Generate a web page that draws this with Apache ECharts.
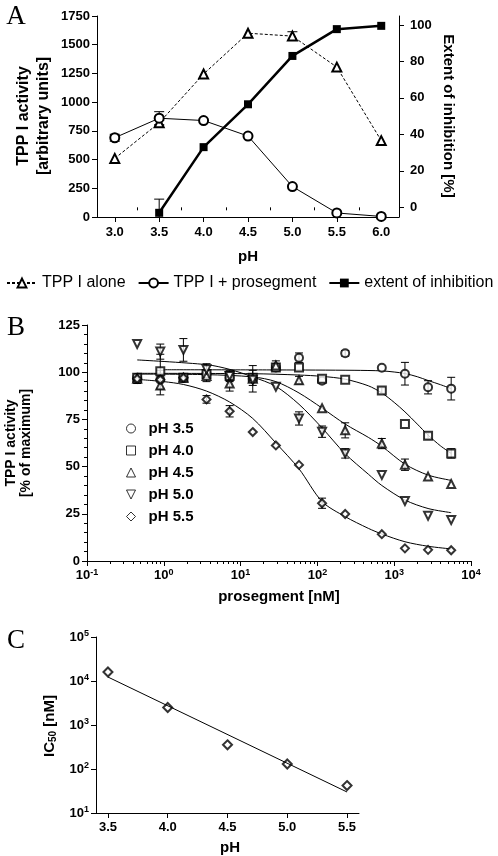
<!DOCTYPE html>
<html><head><meta charset="utf-8">
<script src="https://cdn.jsdelivr.net/npm/echarts@6/dist/echarts.min.js"></script>
<style>html,body{margin:0;padding:0;background:#fff;}#c{width:498px;height:856px;}</style>
</head><body><div id="c"></div>
<script>
// ---------- Panel A ----------
const phA = [3.0, 3.5, 4.0, 4.5, 5.0, 5.5, 6.0];
const tppAlone = [510, 820, 1245, 1600, 1575, 1305, 665];
const tppAloneErr = [0, 20, 0, 0, 38, 0, 0];
const tppPro = [690, 860, 840, 705, 265, 35, 5];
const tppProErr = [30, 57, 0, 0, 0, 0, 0];
const phInhib = [3.5, 4.0, 4.5, 5.0, 5.5, 6.0];
const inhibition = [-3, 33, 56.5, 83, 97.7, 99.5];
const inhibitionErr = [7.5, 0, 0, 0, 0, 0];
const phTicksA = [3.0, 3.5, 4.0, 4.5, 5.0, 5.5, 6.0];
const phMinorTicksA = [3.25, 3.75, 4.25, 4.75, 5.25, 5.75];
const inhibTicksA = [0, 20, 40, 60, 80, 100];

// ---------- Panel B ----------
const conc = [0.45, 0.9, 1.8, 3.6, 7.2, 14.4, 28.8, 57.6, 115, 230, 690, 1380, 2760, 5520];
const act35 = [97, 96, 97, 99, 97, 96.5, 102.5, 107.7, 95.5, 110, 102.4, 99.2, 92, 91.3];
const err35 = [0, 5, 0, 0, 0, 0, 0, 2.5, 0, 1.5, 0, 6, 3.5, 6];
const act40 = [97, 100.5, 97, 99, 98, 97, 102.5, 102.5, 96.5, 96, 90.3, 72.5, 66.3, 57];
const err40 = [0, 9, 0, 2, 3, 4, 2, 0, 0, 0, 1.5, 0, 1.5, 2.5];
const act45 = [96.5, 93, 97, 98, 94, 96.5, 103.5, 95.8, 80.9, 69.2, 62.2, 51, 44.7, 40.8];
const err45 = [2.5, 5, 0, 3, 4, 7, 2.5, 2, 0, 4, 2.7, 3, 0, 0];
const act50 = [114.9, 110.9, 111.8, 101.5, 98, 96, 92.3, 75.5, 68.5, 57, 45.6, 31.8, 24, 21.7];
const err50 = [0, 4, 6, 3, 0, 0, 0, 3.5, 3, 2.5, 0, 0, 0, 0];
const act55 = [96.5, 96, 97, 85.6, 79.3, 68.3, 61.2, 50.9, 30.6, 24.9, 14.2, 6.7, 5.9, 5.7];
const err55 = [0, 0, 0, 2, 3, 0, 0, 0, 2.7, 0, 0, 0, 0, 0];

// fitted curves
const fit35X = [1, 30, 300, 690, 1000, 1380, 2000, 2760, 4000, 5520];
const fit35Y = [101.3, 101.2, 101.0, 100.7, 100.1, 99.3, 97.6, 95.6, 93.4, 91.3];
const fit40X = [0.45, 14.4, 57.6, 115, 230, 460, 690, 1000, 1380, 2000, 2760, 4000, 5520];
const fit40Y = [99.4, 99.2, 98.5, 97.8, 96.3, 92.8, 89, 84, 79, 72.5, 66.7, 61, 57];
const fit45X = [0.45, 3.6, 14.4, 28.8, 57.6, 115, 230, 460, 690, 1380, 2760, 5520];
const fit45Y = [99, 98.7, 97.5, 95, 89, 81, 72.5, 65.5, 60.8, 51.3, 45.5, 42.7];
const fit50X = [0.45, 3.6, 7.2, 14.4, 28.8, 57.6, 115, 230, 460, 690, 1380, 2760, 5520];
const fit50Y = [106.5, 104, 101.5, 97.5, 92.5, 83, 70.5, 56.8, 46, 40, 32.3, 27.8, 25.6];
const fit55X = [0.45, 1, 1.8, 3.6, 7.2, 14.4, 28.8, 57.6, 115, 230, 460, 690, 1380, 2760, 5520];
const fit55Y = [96.2, 95, 93.5, 90, 84.2, 75.5, 62.5, 48.8, 31.5, 23.5, 17.3, 14.3, 10.2, 7.8, 6.4];

const concMinorTicksB = [0.2,0.3,0.4,0.5,0.6,0.7,0.8,0.9, 2,3,4,5,6,7,8,9, 20,30,40,50,60,70,80,90,
  200,300,400,500,600,700,800,900, 2000,3000,4000,5000,6000,7000,8000,9000];

// ---------- Panel C ----------
const phC = [3.5, 4.0, 4.5, 5.0, 5.5];
const ic50 = [16000, 2500, 355, 130, 42];
const fitPhC = [3.5, 5.5];
const fitIc50C = [12300, 30];
const phTicksC = [3.5, 4.0, 4.5, 5.0, 5.5];

// ---------- helpers ----------
const FONT = '"Liberation Sans", Arial, Helvetica, sans-serif';
const pairs = (xs, ys) => xs.map((x, i) => [x, ys[i]]);
function errSeries(xs, ys, es, xi, yi, cap) {
  const data = [];
  xs.forEach((x, i) => { if (es[i] > 0) data.push([x, ys[i] - es[i], ys[i] + es[i]]); });
  return {
    type: 'custom', xAxisIndex: xi, yAxisIndex: yi, clip: true, silent: true, z: 1,
    encode: { x: 0, y: [1, 2] }, data,
    renderItem: (p, api) => {
      const a = api.coord([api.value(0), api.value(1)]);
      const b = api.coord([api.value(0), api.value(2)]);
      const st = { stroke: '#000', lineWidth: 1 };
      return { type: 'group', children: [
        { type: 'line', shape: { x1: a[0], y1: a[1], x2: b[0], y2: b[1] }, style: st },
        { type: 'line', shape: { x1: a[0] - cap, y1: a[1], x2: a[0] + cap, y2: a[1] }, style: st },
        { type: 'line', shape: { x1: b[0] - cap, y1: b[1], x2: b[0] + cap, y2: b[1] }, style: st }
      ]};
    }
  };
}
const labelStyle = { color: '#000', fontSize: 13, fontWeight: 'bold', fontFamily: FONT };
const axLine = { show: true, lineStyle: { color: '#000', width: 1 } };
const supRich = {
  b: { fontSize: 13, fontWeight: 'bold', fontFamily: FONT, color: '#000' },
  s: { fontSize: 9, fontWeight: 'bold', fontFamily: FONT, color: '#000', verticalAlign: 'top', padding: [0, 0, 6, 0] }
};
const powFmt = v => '{b|10}{s|' + Math.round(Math.log10(v)) + '}';
const emptyIcon = { color: '#fff', borderColor: '#000', borderWidth: 1 };

const chart = echarts.init(document.getElementById('c'), null, { renderer: 'canvas' });
const fitLine = (name, xs, ys) => ({
  name, type: 'line', xAxisIndex: 2, yAxisIndex: 2, data: pairs(xs, ys), symbol: 'none',
  smooth: 0.3, lineStyle: { color: '#000', width: 1 }, silent: true, z: 2
});
const scatB = (name, ys, sym, rot) => ({
  name, type: 'scatter', xAxisIndex: 2, yAxisIndex: 2, data: pairs(conc, ys), symbol: sym,
  symbolSize: 8, symbolRotate: rot || 0, itemStyle: { color: '#000', borderColor: '#000', borderWidth: 1 }, z: 3
});

const option = {
  animation: false,
  backgroundColor: '#fff',
  grid: [
    { left: 97, top: 16, width: 302, height: 201 },
    { left: 87, top: 325, width: 384, height: 236 },
    { left: 96, top: 637, width: 263, height: 176 }
  ],
  legend: [
    { data: ['TPP I alone', 'TPP I + prosegment', 'extent of inhibition'], left: 6, top: 275, padding: 0,
      itemWidth: 30, itemHeight: 11, itemGap: 12, selectedMode: false,
      textStyle: { fontSize: 16, fontFamily: FONT, color: '#000' } },
    { data: [
        { name: 'pH 3.5', icon: 'circle', itemStyle: emptyIcon },
        { name: 'pH 4.0', icon: 'rect', itemStyle: emptyIcon },
        { name: 'pH 4.5', icon: 'triangle', itemStyle: emptyIcon },
        { name: 'pH 5.0', icon: 'path://M0,0L10,0L5,10Z', itemStyle: emptyIcon },
        { name: 'pH 5.5', icon: 'diamond', itemStyle: emptyIcon }
      ], orient: 'vertical', left: 126, top: 421, padding: 0,
      itemWidth: 9, itemHeight: 9, itemGap: 7, selectedMode: false,
      textStyle: { fontSize: 15, fontWeight: 'bold', fontFamily: FONT, color: '#000', lineHeight: 14, padding: [0, 0, 0, 8] } }
  ],
  xAxis: [
    { type: 'value', gridIndex: 0, min: 2.8, max: 6.2, position: 'bottom', axisLine: axLine, splitLine: { show: false },
      axisTick: { show: true, length: 5, customValues: phTicksA, lineStyle: { color: '#000' } },
      axisLabel: Object.assign({ margin: 9, customValues: phTicksA, formatter: v => v.toFixed(1) }, labelStyle) },
    { type: 'value', gridIndex: 0, min: 2.8, max: 6.2, position: 'bottom', axisLine: { show: false }, splitLine: { show: false },
      axisTick: { show: true, length: 3, customValues: phMinorTicksA, lineStyle: { color: '#000' } }, axisLabel: { show: false } },
    { type: 'log', logBase: 10, gridIndex: 1, min: 0.1, max: 10000, position: 'bottom', axisLine: axLine, splitLine: { show: false },
      axisTick: { show: true, length: 5, lineStyle: { color: '#000' } },
      axisLabel: { margin: 7, formatter: powFmt, rich: supRich } },
    { type: 'log', logBase: 10, gridIndex: 1, min: 0.1, max: 10000, position: 'bottom', axisLine: { show: false }, splitLine: { show: false },
      axisTick: { show: true, length: 3, customValues: concMinorTicksB, lineStyle: { color: '#000' } }, axisLabel: { show: false } },
    { type: 'value', gridIndex: 2, min: 3.4, max: 5.6, position: 'bottom', axisLine: axLine, splitLine: { show: false },
      axisTick: { show: true, length: 5, customValues: phTicksC, lineStyle: { color: '#000' } },
      axisLabel: Object.assign({ margin: 8, customValues: phTicksC, formatter: v => v.toFixed(1) }, labelStyle) }
  ],
  yAxis: [
    { type: 'value', gridIndex: 0, min: 0, max: 1750, interval: 250, position: 'left', axisLine: axLine, splitLine: { show: false },
      axisTick: { show: true, length: 5, lineStyle: { color: '#000' } },
      axisLabel: Object.assign({ margin: 7, formatter: v => String(v) }, labelStyle) },
    { type: 'value', gridIndex: 0, min: -5.3, max: 104.9, position: 'right', axisLine: axLine, splitLine: { show: false },
      axisTick: { show: true, length: 5, customValues: inhibTicksA, lineStyle: { color: '#000' } },
      axisLabel: Object.assign({ margin: 11, customValues: inhibTicksA, formatter: v => String(v) }, labelStyle) },
    { type: 'value', gridIndex: 1, min: 0, max: 125, interval: 25, position: 'left', axisLine: axLine, splitLine: { show: false },
      axisTick: { show: true, length: 5, lineStyle: { color: '#000' } },
      minorTick: { show: true, splitNumber: 5, length: 3, lineStyle: { color: '#000' } },
      axisLabel: Object.assign({ margin: 7, formatter: v => String(v) }, labelStyle) },
    { type: 'log', logBase: 10, gridIndex: 2, min: 10, max: 100000, position: 'left', axisLine: axLine, splitLine: { show: false },
      axisTick: { show: true, length: 5, lineStyle: { color: '#000' } },
      axisLabel: { margin: 7, formatter: powFmt, rich: supRich } }
  ],
  series: [
    // Panel A
    { name: 'TPP I alone', type: 'line', xAxisIndex: 0, yAxisIndex: 0, data: pairs(phA, tppAlone),
      symbol: 'emptyTriangle', symbolSize: 9, lineStyle: { color: '#000', width: 1, type: [3, 2] },
      itemStyle: { color: '#000', borderColor: '#000', borderWidth: 1 }, z: 3 },
    { name: 'TPP I + prosegment', type: 'line', xAxisIndex: 0, yAxisIndex: 0, data: pairs(phA, tppPro),
      symbol: 'emptyCircle', symbolSize: 9, lineStyle: { color: '#000', width: 1 },
      itemStyle: { color: '#000', borderColor: '#000', borderWidth: 1 }, z: 3 },
    { name: 'extent of inhibition', type: 'line', xAxisIndex: 0, yAxisIndex: 1, data: pairs(phInhib, inhibition),
      symbol: 'rect', symbolSize: 8, lineStyle: { color: '#000', width: 2.5 },
      itemStyle: { color: '#000' }, z: 4 },
    errSeries(phA, tppAlone, tppAloneErr, 0, 0, 5),
    errSeries(phA, tppPro, tppProErr, 0, 0, 5),
    errSeries(phInhib, inhibition, inhibitionErr, 0, 1, 5),
    // Panel B
    fitLine('fit 3.5', fit35X, fit35Y),
    fitLine('fit 4.0', fit40X, fit40Y),
    fitLine('fit 4.5', fit45X, fit45Y),
    fitLine('fit 5.0', fit50X, fit50Y),
    fitLine('fit 5.5', fit55X, fit55Y),
    errSeries(conc, act35, err35, 2, 2, 4),
    errSeries(conc, act40, err40, 2, 2, 4),
    errSeries(conc, act45, err45, 2, 2, 4),
    errSeries(conc, act50, err50, 2, 2, 4),
    errSeries(conc, act55, err55, 2, 2, 4),
    scatB('pH 3.5', act35, 'emptyCircle'),
    scatB('pH 4.0', act40, 'emptyRect'),
    scatB('pH 4.5', act45, 'emptyTriangle'),
    scatB('pH 5.0', act50, 'emptyTriangle', 180),
    scatB('pH 5.5', act55, 'emptyDiamond'),
    // Panel C
    { name: 'IC50 fit', type: 'line', xAxisIndex: 4, yAxisIndex: 3, data: pairs(fitPhC, fitIc50C), symbol: 'none',
      lineStyle: { color: '#000', width: 1 }, silent: true },
    { name: 'IC50', type: 'scatter', xAxisIndex: 4, yAxisIndex: 3, data: pairs(phC, ic50), symbol: 'emptyDiamond',
      symbolSize: 9, itemStyle: { color: '#000', borderColor: '#000', borderWidth: 1 } }
  ],
  graphic: [
    { type: 'text', x: 16, y: 17, style: { text: 'A', font: '27px "Liberation Serif", "Times New Roman", serif', fill: '#000', align: 'center', verticalAlign: 'middle', textAlign: 'center', textVerticalAlign: 'middle' } },
    { type: 'text', x: 16, y: 328, style: { text: 'B', font: '27px "Liberation Serif", "Times New Roman", serif', fill: '#000', align: 'center', verticalAlign: 'middle', textAlign: 'center', textVerticalAlign: 'middle' } },
    { type: 'text', x: 16, y: 641, style: { text: 'C', font: '27px "Liberation Serif", "Times New Roman", serif', fill: '#000', align: 'center', verticalAlign: 'middle', textAlign: 'center', textVerticalAlign: 'middle' } },
    { type: 'text', x: 34, y: 116, rotation: Math.PI / 2, style: { text: 'TPP I activity\n[arbitrary units]', font: 'bold 16px ' + FONT, lineHeight: 20, fill: '#000', align: 'center', verticalAlign: 'middle', textAlign: 'center', textVerticalAlign: 'middle' } },
    { type: 'text', x: 448, y: 116, rotation: -Math.PI / 2, style: { text: 'Extent of inhibition [%]', font: 'bold 15px ' + FONT, fill: '#000', align: 'center', verticalAlign: 'middle', textAlign: 'center', textVerticalAlign: 'middle' } },
    { type: 'text', x: 248, y: 257, style: { text: 'pH', font: 'bold 15px ' + FONT, fill: '#000', align: 'center', verticalAlign: 'middle', textAlign: 'center', textVerticalAlign: 'middle' } },
    { type: 'text', x: 18.5, y: 443, rotation: Math.PI / 2, style: { text: 'TPP I activity\n[% of maximum]', font: 'bold 14px ' + FONT, lineHeight: 15, fill: '#000', align: 'center', verticalAlign: 'middle', textAlign: 'center', textVerticalAlign: 'middle' } },
    { type: 'text', x: 279, y: 597, style: { text: 'prosegment [nM]', font: 'bold 15px ' + FONT, fill: '#000', align: 'center', verticalAlign: 'middle', textAlign: 'center', textVerticalAlign: 'middle' } },
    { type: 'text', x: 50, y: 726, rotation: Math.PI / 2, style: { text: '{a|IC}{b|50}{a| [nM]}', fill: '#000', align: 'center', verticalAlign: 'middle', textAlign: 'center', textVerticalAlign: 'middle',
      rich: { a: { fontSize: 15, fontWeight: 'bold', fontFamily: FONT, fill: '#000', color: '#000' }, b: { fontSize: 10, fontWeight: 'bold', fontFamily: FONT, fill: '#000', color: '#000', verticalAlign: 'bottom', padding: [6, 0, 0, 0] } } } },
    { type: 'text', x: 230, y: 848, style: { text: 'pH', font: 'bold 15px ' + FONT, fill: '#000', align: 'center', verticalAlign: 'middle', textAlign: 'center', textVerticalAlign: 'middle' } }
  ]
};
chart.setOption(option);
</script>
</body></html>
